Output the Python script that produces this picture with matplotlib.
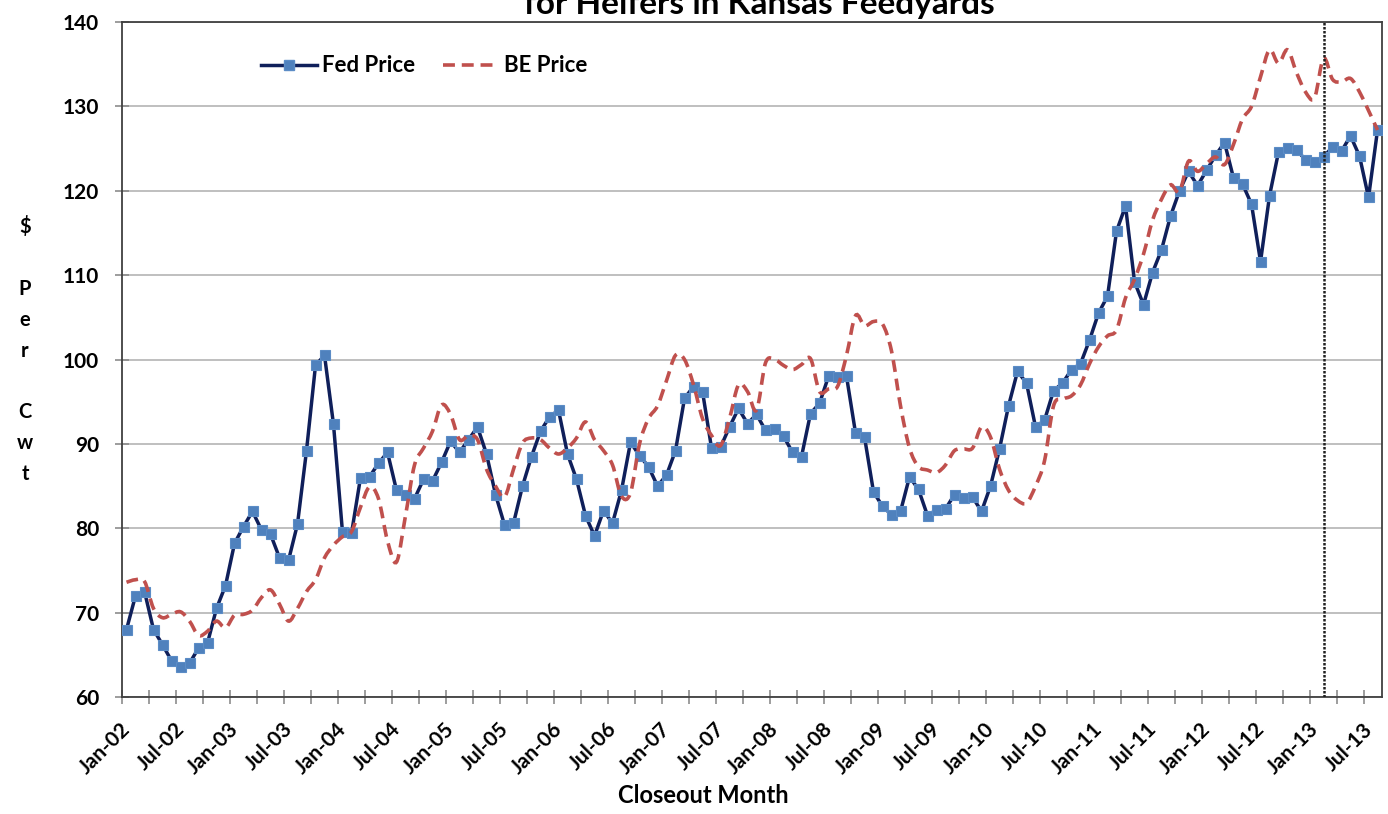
import numpy as np
import pandas as pd
import matplotlib
matplotlib.use('Agg')
import matplotlib.pyplot as plt
from matplotlib.path import Path
from matplotlib.patches import PathPatch
from matplotlib.lines import Line2D
import matplotlib.transforms as mtransforms

plt.rcParams['font.family'] = ['Lato', 'DejaVu Sans']
plt.rcParams['font.weight'] = 'bold'

# closeout months Jan-02 .. Aug-13
months = list(pd.date_range('2002-01-01', periods=140, freq='MS').strftime('%b-%y'))

fed_price = [
    68.0, 72.0, 72.5, 68.0, 66.2, 64.3, 63.6, 64.0, 65.8, 66.4, 70.5, 73.2,   # 2002
    78.2, 80.2, 82.0, 79.8, 79.3, 76.5, 76.2, 80.5, 89.2, 99.3, 100.5, 92.3,  # 2003
    79.5, 79.4, 86.0, 86.1, 87.7, 89.0, 84.5, 84.0, 83.5, 85.8, 85.6, 87.8,   # 2004
    90.3, 89.0, 90.5, 92.0, 88.8, 84.0, 80.4, 80.6, 85.0, 88.5, 91.5, 93.2,   # 2005
    94.0, 88.8, 85.8, 81.5, 79.1, 82.1, 80.6, 84.5, 90.2, 88.6, 87.3, 85.0,   # 2006
    86.3, 89.2, 95.4, 96.8, 96.2, 89.5, 89.6, 92.0, 94.2, 92.4, 93.5, 91.6,   # 2007
    91.8, 90.9, 89.0, 88.5, 93.6, 94.8, 98.0, 97.9, 98.0, 91.3, 90.8, 84.3,   # 2008
    82.6, 81.6, 82.0, 86.1, 84.6, 81.5, 82.2, 82.3, 84.0, 83.6, 83.7, 82.0,   # 2009
    85.0, 89.4, 94.5, 98.6, 97.2, 92.0, 92.8, 96.3, 97.2, 98.8, 99.5, 102.3,  # 2010
    105.5, 107.5, 115.2, 118.2, 109.2, 106.5, 110.3, 113.0, 117.0, 120.0, 122.3, 120.6,  # 2011
    122.4, 124.2, 125.7, 121.5, 120.8, 118.4, 111.6, 119.4, 124.6, 125.1, 124.8, 123.7,  # 2012
    123.4, 124.0, 125.2, 124.7, 126.5, 124.1, 119.2, 127.2,                    # 2013
]

be_price = [
    73.6, 73.9, 73.7, 70.5, 69.4, 69.8, 70.1, 69.0, 67.3, 67.8, 69.0, 68.2,
    69.7, 69.8, 70.3, 71.8, 72.7, 71.0, 69.0, 70.5, 72.5, 73.9, 76.5, 78.0,
    79.0, 79.6, 82.5, 84.9, 83.5, 78.5, 76.0, 81.5, 87.5, 89.5, 91.5, 94.6,
    93.5, 90.5, 91.0, 90.5, 87.0, 85.0, 83.7, 87.0, 90.1, 90.7, 90.5, 89.5,
    88.8, 89.5, 90.7, 92.6, 90.5, 89.2, 87.5, 83.8, 84.2, 90.0, 93.0, 94.5,
    97.5, 100.5, 100.0, 97.0, 93.0, 91.0, 89.8, 93.0, 97.0, 96.2, 94.0, 99.6,
    100.0, 99.3, 98.8, 99.4, 100.1, 96.2, 96.5, 96.8, 100.5, 105.2, 104.0, 104.5,
    104.2, 101.0, 94.5, 89.5, 87.3, 86.9, 86.6, 87.5, 89.2, 89.4, 89.5, 92.0,
    90.8, 87.0, 84.5, 83.3, 83.0, 85.0, 88.0, 94.5, 95.3, 95.7, 97.0, 99.5,
    101.5, 102.8, 103.5, 107.3, 109.5, 112.5, 116.5, 119.0, 120.7, 119.9, 123.5, 122.3,
    123.2, 124.0, 123.1, 125.5, 128.5, 130.0, 133.5, 136.7, 135.1, 136.7, 134.0, 131.7,
    131.0, 135.7, 133.2, 132.9, 133.3, 131.7, 129.5, 127.2,
]

cutoff_month = 'Feb-13'
y_ticks = [60, 70, 80, 90, 100, 110, 120, 130, 140]

fed_line = '#0F1F5A'
fed_marker = '#4F81BD'
be_color = '#C0504D'
be_dash = (0, (3.3, 1.9))

x = np.arange(len(months))

fig = plt.figure(figsize=(13.88, 8.14), dpi=100)
ax = fig.add_axes([0.0879, 0.1437, 0.9078, 0.8293])

ax.set_ylim(60, 140)
ax.set_xlim(-0.5, len(months) - 0.5)
ax.set_yticks(y_ticks)
ax.yaxis.grid(True, color='#BFBFBF', linewidth=1.4)
ax.set_axisbelow(True)

for s in ax.spines.values():
    s.set_color('#404040')
    s.set_linewidth(1.3)

# Fed price with square markers
ax.plot(x, fed_price, color=fed_line, linewidth=2.5, zorder=3,
        marker='s', markersize=7.5, markerfacecolor=fed_marker,
        markeredgecolor='#5B8CC6', markeredgewidth=0.8)

# BE price, smoothed like excel (bezier through each monthly value)
pts = np.column_stack([x, be_price]).astype(float)
verts = [pts[0]]
codes = [Path.MOVETO]
n = len(pts)
for i in range(n - 1):
    p0 = pts[max(i - 1, 0)]
    p1 = pts[i]
    p2 = pts[i + 1]
    p3 = pts[min(i + 2, n - 1)]
    verts += [p1 + (p2 - p0) / 6.0, p2 - (p3 - p1) / 6.0, p2]
    codes += [Path.CURVE4] * 3
be_patch = PathPatch(Path(verts, codes), fill=False, edgecolor=be_color,
                     linewidth=2.6, linestyle=be_dash, zorder=4)
ax.add_patch(be_patch)

# vertical dotted marker
ax.axvline(months.index(cutoff_month), color='#202020', linewidth=1.8,
           linestyle=(0, (1, 0.6)), zorder=5)

# x ticks: marks every 3 months at boundaries, labels every 6 months
ax.set_xticks(np.arange(-0.5, len(months), 3), minor=True)
ax.set_xticks(x[::6])
ax.set_xticklabels(months[::6], rotation=45, ha='right', va='center',
                   rotation_mode='anchor', fontsize=15, fontweight='bold')
ax.tick_params(axis='x', which='major', length=0, pad=21)
ax.tick_params(axis='x', which='minor', length=9.5, width=1.2, color='#8C8C8C',
               direction='inout')
offset = mtransforms.ScaledTranslation(1 / 100, 0, fig.dpi_scale_trans)
for lab in ax.get_xticklabels():
    lab.set_transform(lab.get_transform() + offset)

ax.tick_params(axis='y', length=10, width=1.2, color='#8C8C8C', direction='inout',
               labelsize=15, pad=11.5)
for lab in ax.get_yticklabels():
    lab.set_fontweight('bold')

ax.set_xlabel('Closeout Month', fontsize=17, fontweight='bold', va='center')
ax.xaxis.set_label_coords((703 - 122) / 1260, (697 - 795) / 675)

fig.text(0.018, 0.570, '$\n\nP\ne\nr\n\nC\nw\nt', ha='center', va='center',
         fontsize=14.5, fontweight='bold', linespacing=1.68)

fig.text(0.547, 1 - 14 / 814, 'for Heifers in Kansas Feedyards', ha='center',
         va='baseline', fontsize=24, fontweight='bold')

handles = [
    Line2D([], [], color=fed_line, linewidth=2.5, marker='s', markersize=7.5,
           markerfacecolor=fed_marker, markeredgecolor='#5B8CC6'),
    Line2D([], [], color=be_color, linewidth=2.6, linestyle=be_dash),
]
ax.legend(handles, ['Fed Price', 'BE Price'], loc='center left',
          bbox_to_anchor=(0.103, 0.935), ncol=2, frameon=False,
          handlelength=2.55, handletextpad=0.2, columnspacing=1.25,
          borderaxespad=0, prop={'weight': 'bold', 'size': 16})

fig.savefig('out.png', dpi=100)
